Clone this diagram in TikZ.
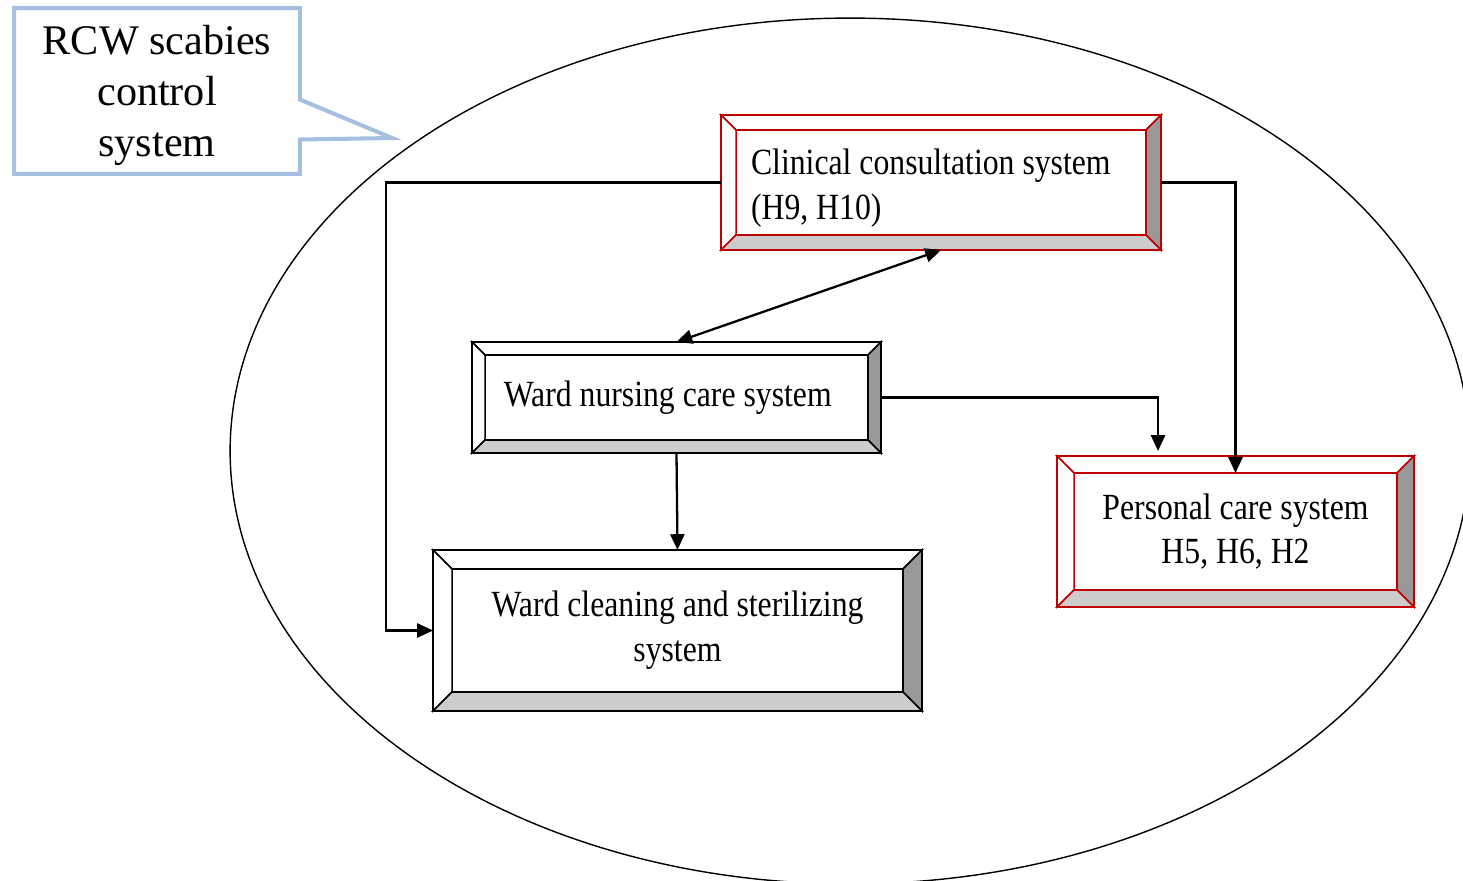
\documentclass[tikz,border=0pt]{standalone}
\usepackage{fontspec}
\setmainfont{Liberation Serif}
\newfontfamily\narrowserif[FakeStretch=0.86]{Liberation Serif}
\usepackage{xcolor}
\usetikzlibrary{arrows.meta, calc, shapes.callouts}

\definecolor{boxred}{RGB}{192,0,0}
\definecolor{bevdark}{RGB}{153,153,153}
\definecolor{bevlight}{RGB}{204,204,204}
\definecolor{noteblue}{RGB}{166,191,224}

% bevel faces of a box: node, bevel depth, line colour
\newcommand{\bevelframe}[3]{%
  \coordinate (#1-a) at ($(#1.north west)+(#2,-#2)$);
  \coordinate (#1-b) at ($(#1.north east)+(-#2,-#2)$);
  \coordinate (#1-c) at ($(#1.south east)+(-#2,#2)$);
  \coordinate (#1-d) at ($(#1.south west)+(#2,#2)$);
  \filldraw[bevface, fill=white, draw=#3] (#1.north west) -- (#1.north east) -- (#1-b) -- (#1-a) -- cycle;
  \filldraw[bevface, fill=white, draw=#3] (#1.north west) -- (#1-a) -- (#1-d) -- (#1.south west) -- cycle;
  \filldraw[bevface, fill=bevdark, draw=#3] (#1.north east) -- (#1.south east) -- (#1-c) -- (#1-b) -- cycle;
  \filldraw[bevface, fill=bevlight, draw=#3] (#1.south west) -- (#1-d) -- (#1-c) -- (#1.south east) -- cycle;
  \draw[#3, line width=1.2pt] (#1.north west) rectangle (#1.south east);
}

\begin{document}
\begin{tikzpicture}[
  x=0.02cm, y=-0.02cm,
  sysbox/.style={rectangle, draw, fill=white, outer sep=0pt, inner sep=0pt, line width=1.2pt,
    font={\narrowserif\fontsize{21}{25.5}\selectfont}},
  bevface/.style={line width=0.9pt, line join=miter},
  note/.style={rectangle callout, draw=noteblue, line width=2.3pt, fill=white, align=center,
    minimum width=5.72cm, minimum height=3.32cm, font={\fontsize{24}{29}\selectfont}},
  conn/.style={line width=1.3pt, -{Triangle[length=9pt, width=8pt]}},
]
\useasboundingbox (0,0) rectangle (1463,881);
\clip (0,0) rectangle (1463,881);

% system boundary
\draw[line width=0.8pt] (850,451) ellipse (12.4cm and 8.66cm);

% callout
\node[note, callout absolute pointer={(392,138)}, callout pointer width=0.8cm] (label) at (157,91)
  {\rule{0pt}{0.92em}RCW scabies\\control\\system};

% subsystems
\node[sysbox, draw=boxred, minimum width=8.8cm, minimum height=2.7cm, text width=7.6cm, align=flush left]
  (clin) at (941,182.5) {\rule{0pt}{1.0em}Clinical consultation system\\(H9, H10)};
\bevelframe{clin}{0.3cm}{boxred}

\node[sysbox, minimum width=8.18cm, minimum height=2.22cm, align=center]
  (nurse) at (676.5,397.5) {Ward nursing care system\hspace*{0.35cm}};
\bevelframe{nurse}{0.26cm}{black}

\node[sysbox, minimum width=9.78cm, minimum height=3.22cm, align=center]
  (clean) at (677.5,630.5) {Ward cleaning and sterilizing\\system};
\bevelframe{clean}{0.38cm}{black}

\node[sysbox, draw=boxred, minimum width=7.14cm, minimum height=3.02cm, align=center]
  (pers) at (1235.5,531.5) {Personal care system\\H5, H6, H2};
\bevelframe{pers}{0.34cm}{boxred}

% connectors
\draw[conn] (clin.west) -- ++(-335,0) |- (clean.west);
\draw[conn] (clin.east) -| ($(pers.north)+(0,-0.34cm)$);
\draw[conn] (nurse.east) -| ($(pers.north west)+(2.02cm,0.1cm)$);
\draw[conn] (nurse.south) -- (clean.north);
\draw[conn, {Triangle[length=9pt, width=8pt]}-{Triangle[length=9pt, width=8pt]}] (nurse.north) -- (clin.south);

\end{tikzpicture}
\end{document}
